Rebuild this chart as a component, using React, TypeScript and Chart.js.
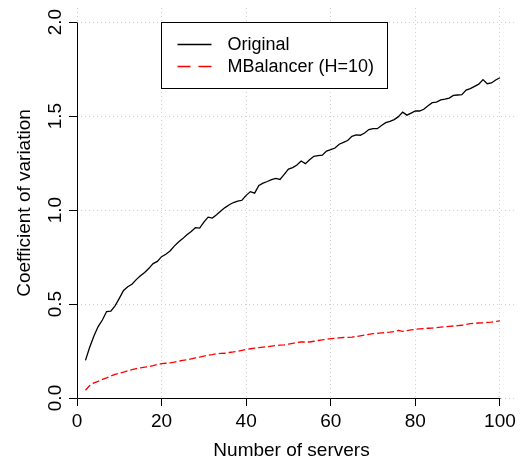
import { useEffect, useRef } from "react";
import { Chart, registerables } from "chart.js";

Chart.register(...registerables);

const FONT = '"Liberation Sans", Arial, Helvetica, sans-serif';

// Number of servers (x)
const servers = [
  2, 3, 4, 5, 6, 7, 8, 9, 10, 11, 12, 13, 14, 15, 16, 17, 18, 19, 20, 21,
  22, 23, 24, 25, 26, 27, 28, 29, 30, 31, 32, 33, 34, 35, 36, 37, 38, 39, 40, 41,
  42, 43, 44, 45, 46, 47, 48, 49, 50, 51, 52, 53, 54, 55, 56, 57, 58, 59, 60, 61,
  62, 63, 64, 65, 66, 67, 68, 69, 70, 71, 72, 73, 74, 75, 76, 77, 78, 79, 80, 81,
  82, 83, 84, 85, 86, 87, 88, 89, 90, 91, 92, 93, 94, 95, 96, 97, 98, 99, 100,
];

// Coefficient of variation without balancing
const original = [
  0.2, 0.27, 0.33, 0.38, 0.415, 0.46, 0.462, 0.49, 0.53, 0.572,
  0.592, 0.605, 0.63, 0.65, 0.668, 0.69, 0.715, 0.727, 0.752, 0.765,
  0.782, 0.808, 0.83, 0.848, 0.868, 0.886, 0.906, 0.904, 0.936, 0.962,
  0.957, 0.975, 0.995, 1.013, 1.028, 1.04, 1.048, 1.052, 1.078, 1.098,
  1.09, 1.131, 1.143, 1.152, 1.162, 1.168, 1.163, 1.19, 1.218, 1.226,
  1.24, 1.261, 1.247, 1.268, 1.286, 1.289, 1.292, 1.314, 1.321, 1.33,
  1.35, 1.36, 1.37, 1.392, 1.4, 1.398, 1.41, 1.428, 1.433, 1.433,
  1.45, 1.465, 1.472, 1.481, 1.497, 1.521, 1.505, 1.516, 1.527, 1.527,
  1.536, 1.555, 1.571, 1.574, 1.586, 1.59, 1.596, 1.61, 1.612, 1.614,
  1.638, 1.646, 1.658, 1.67, 1.694, 1.672, 1.676, 1.692, 1.704,
];

// Coefficient of variation with MBalancer (H=10)
const mbalancer = [
  0.041, 0.066, 0.08, 0.088, 0.099, 0.107, 0.117, 0.126, 0.132, 0.138,
  0.145, 0.151, 0.156, 0.16, 0.164, 0.167, 0.172, 0.178, 0.183, 0.185,
  0.187, 0.191, 0.196, 0.2, 0.204, 0.208, 0.213, 0.218, 0.223, 0.227,
  0.231, 0.236, 0.237, 0.238, 0.242, 0.245, 0.249, 0.254, 0.259, 0.262,
  0.265, 0.268, 0.271, 0.273, 0.276, 0.279, 0.281, 0.283, 0.287, 0.291,
  0.295, 0.298, 0.298, 0.298, 0.302, 0.306, 0.309, 0.312, 0.316, 0.318,
  0.32, 0.322, 0.323, 0.324, 0.327, 0.331, 0.335, 0.339, 0.342, 0.344,
  0.346, 0.348, 0.35, 0.353, 0.36, 0.355, 0.359, 0.363, 0.365, 0.368,
  0.369, 0.371, 0.372, 0.374, 0.377, 0.379, 0.381, 0.383, 0.385, 0.387,
  0.392, 0.396, 0.397, 0.399, 0.4, 0.402, 0.404, 0.407, 0.41,
];

const xTicks = [0, 20, 40, 60, 80, 100];
const yTicks = [0, 0.5, 1, 1.5, 2];
const yTickLabels = ["0.0", "0.5", "1.0", "1.5", "2.0"];
const seriesNames = ["Original", "MBalancer (H=10)"];
const xTitle = "Number of servers";
const yTitle = "Coefficient of variation";

const RED_DASH = [7, 3];

// Axis lines, rotated y labels, axis titles and the boxed legend
const decorations = {
  id: "decorations",
  afterDraw(chart: any) {
    const { ctx, chartArea, scales } = chart;
    const xs = scales.x;
    const ys = scales.y;
    const x0 = Math.round(xs.getPixelForValue(xTicks[0])) + 0.5;
    const x1 = Math.round(xs.getPixelForValue(xTicks[xTicks.length - 1])) + 0.5;
    const y0 = Math.round(ys.getPixelForValue(yTicks[0])) + 0.5;
    const y1 = Math.round(ys.getPixelForValue(yTicks[yTicks.length - 1])) + 0.5;

    ctx.save();
    ctx.strokeStyle = "#000";
    ctx.lineWidth = 1;
    ctx.setLineDash([]);
    ctx.beginPath();
    ctx.moveTo(x0, y0);
    ctx.lineTo(x1, y0);
    ctx.moveTo(x0, y0);
    ctx.lineTo(x0, y1);
    ctx.stroke();

    ctx.fillStyle = "#000";
    ctx.font = `19px ${FONT}`;
    ctx.textAlign = "center";
    ctx.textBaseline = "alphabetic";
    yTicks.forEach((v, i) => {
      ctx.save();
      ctx.translate(x0 - 17, ys.getPixelForValue(v));
      ctx.rotate(-Math.PI / 2);
      ctx.fillText(yTickLabels[i], 0, 0);
      ctx.restore();
    });

    // axis titles
    const midX = (chartArea.left + chartArea.right) / 2;
    const midY = (chartArea.top + chartArea.bottom) / 2;
    ctx.fillText(xTitle, midX - 5, 456);
    ctx.save();
    ctx.translate(30, midY);
    ctx.rotate(-Math.PI / 2);
    ctx.fillText(yTitle, 0, 0);
    ctx.restore();

    // legend
    const bx = 161.5;
    const by = y1;
    const bw = 226;
    const bh = 66;
    ctx.fillStyle = "#fff";
    ctx.fillRect(bx, by, bw, bh);
    ctx.strokeStyle = "#000";
    ctx.strokeRect(bx, by, bw, bh);

    const rowY = [by + 22, by + 44];
    ctx.lineWidth = 1.6;
    ctx.strokeStyle = "#000";
    ctx.beginPath();
    ctx.moveTo(bx + 16, rowY[0]);
    ctx.lineTo(bx + 50, rowY[0]);
    ctx.stroke();
    ctx.strokeStyle = "#ff0000";
    ctx.setLineDash([13, 8]);
    ctx.beginPath();
    ctx.moveTo(bx + 16, rowY[1]);
    ctx.lineTo(bx + 50, rowY[1]);
    ctx.stroke();
    ctx.setLineDash([]);

    ctx.font = `18px ${FONT}`;
    ctx.fillStyle = "#000";
    ctx.textAlign = "left";
    ctx.textBaseline = "middle";
    ctx.fillText(seriesNames[0], bx + 66, rowY[0] + 1);
    ctx.fillText(seriesNames[1], bx + 66, rowY[1] + 1);
    ctx.restore();
  },
};

export default function App() {
  const canvasRef = useRef<HTMLCanvasElement | null>(null);

  useEffect(() => {
    const canvas = canvasRef.current;
    if (!canvas) return;

    const chart = new Chart(canvas, {
      type: "line",
      data: {
        datasets: [
          {
            label: seriesNames[0],
            data: servers.map((s, i) => ({ x: s, y: original[i] })),
            borderColor: "#000",
            borderWidth: 1.3,
            pointRadius: 0,
            tension: 0,
            fill: false,
          },
          {
            label: seriesNames[1],
            data: servers.map((s, i) => ({ x: s, y: mbalancer[i] })),
            borderColor: "#ff0000",
            borderWidth: 1.3,
            borderDash: RED_DASH,
            pointRadius: 0,
            tension: 0,
            fill: false,
          },
        ],
      },
      options: {
        animation: false,
        responsive: false,
        maintainAspectRatio: false,
        layout: { padding: { left: 0, top: 8, right: 4, bottom: 0 } },
        plugins: {
          legend: { display: false },
          tooltip: { enabled: false },
          title: { display: false },
        },
        scales: {
          x: {
            type: "linear",
            min: 0,
            max: 103.8,
            afterBuildTicks: (scale: any) => {
              scale.ticks = xTicks.map((v) => ({ value: v }));
            },
            afterFit: (scale: any) => {
              scale.height = 63;
            },
            grid: {
              color: "#cfcfcf",
              lineWidth: 1,
              tickLength: 8,
              tickColor: "#000",
              tickWidth: 1,
            },
            border: { display: false, dash: [1, 3] },
            ticks: {
              color: "#000",
              font: { family: FONT, size: 19 },
              padding: 4,
              maxRotation: 0,
              minRotation: 0,
              callback: (v: any) => String(v),
            },
          },
          y: {
            type: "linear",
            min: 0,
            max: 2.075,
            afterBuildTicks: (scale: any) => {
              scale.ticks = yTicks.map((v) => ({ value: v }));
            },
            afterFit: (scale: any) => {
              scale.width = 77;
            },
            grid: {
              color: "#cfcfcf",
              lineWidth: 1,
              tickLength: 8,
              tickColor: "#000",
              tickWidth: 1,
            },
            border: { display: false, dash: [1, 3] },
            ticks: { display: false },
          },
        },
      },
      plugins: [decorations],
    });

    return () => chart.destroy();
  }, []);

  return (
    <div style={{ position: "fixed", left: 0, top: 0, width: 520, height: 461, background: "#fff" }}>
      <canvas ref={canvasRef} width={520} height={461} style={{ display: "block" }} />
    </div>
  );
}
